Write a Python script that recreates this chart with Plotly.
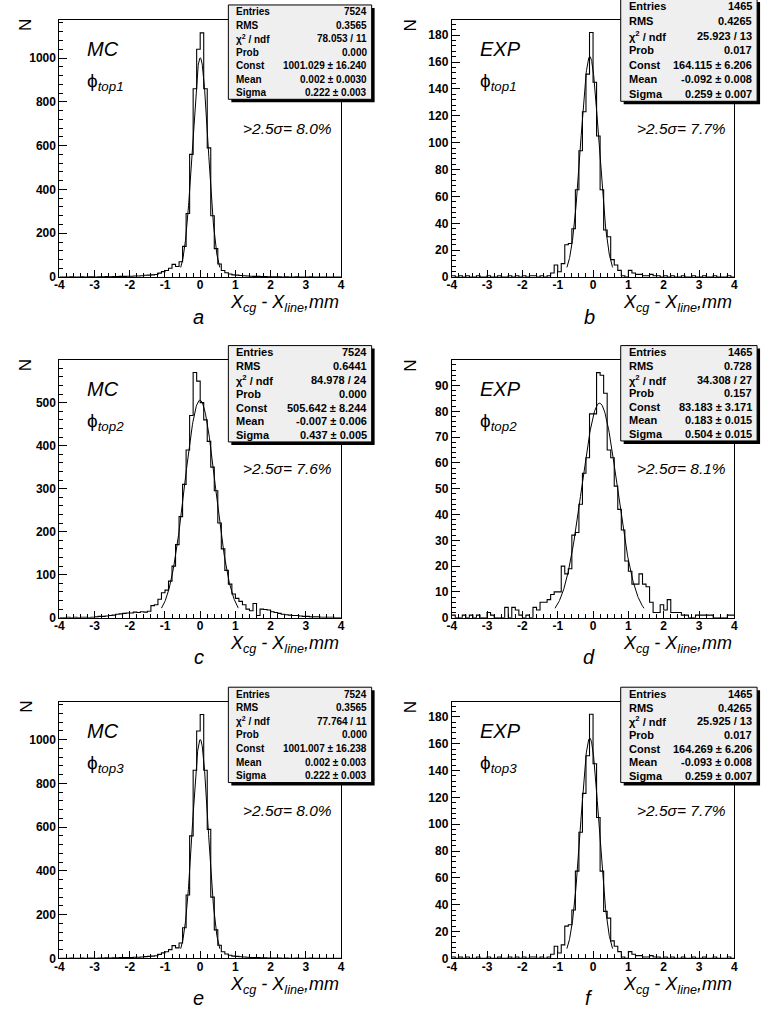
import numpy as np
import plotly.graph_objects as go

W, H = 770, 1012

# 80 bins of 0.1 mm from -4 to 4
bin_edges = np.round(np.linspace(-4.0, 4.0, 81), 2)

# Counts per bin (left edge -4.0 ... 3.9)
mc_top1 = [0, 0, 0, 1, 0, 0, 1, 0, 1, 1, 0, 1, 1, 2, 1, 2, 2, 3, 3, 4,
           4, 5, 5, 6, 8, 9, 10, 12, 18, 25,
           30, 40, 58, 48, 70, 140, 290, 560, 860, 1040,
           1115, 860, 590, 280, 130, 60, 30, 20, 14, 10,
           9, 7, 6, 5, 4, 3, 3, 2, 2, 1,
           1, 1, 1, 0, 1, 0, 0, 1, 0, 0,
           0, 1, 0, 0, 0, 0, 0, 0, 0, 0]

exp_top1 = [1, 0, 1, 0, 1, 0, 0, 1, 0, 0, 1, 0, 0, 1, 0, 0, 1, 0, 1, 0,
            1, 0, 1, 1, 0, 1, 0, 1, 3, 9,
            4, 10, 24, 25, 36, 65, 94, 123, 151, 182,
            145, 105, 65, 35, 30, 13, 9, 5, 1, 0,
            5, 3, 2, 2, 1, 1, 2, 1, 1, 0,
            1, 0, 1, 0, 0, 1, 0, 0, 1, 0,
            0, 1, 0, 0, 1, 0, 0, 0, 1, 0]

mc_top2 = [0, 0, 1, 0, 1, 0, 1, 1, 0, 1,
           2, 3, 3, 4, 5, 6, 8, 9, 10, 11,
           11, 13, 12, 14, 13, 15, 28, 30, 43, 58,
           64, 85, 120, 170, 235, 310, 390, 470, 570, 550,
           500, 460, 410, 350, 295, 220, 160, 110, 78, 55,
           45, 38, 30, 20, 16, 33, 5, 20, 19, 18,
           14, 12, 10, 8, 7, 6, 5, 5, 4, 3,
           3, 2, 2, 2, 1, 1, 1, 1, 0, 0]

exp_top2 = [1, 0, 0, 1, 0, 1, 0, 1, 0, 0,
            2, 1, 0, 0, 0, 4, 0, 4, 3, 1,
            0, 1, 0, 4, 3, 6, 6, 7, 9, 10,
            10, 20, 17, 19, 32, 33, 44, 56, 62, 79,
            79, 95, 94, 87, 65, 62, 51, 42, 34, 22,
            18, 13, 13, 17, 13, 12, 6, 2, 2, 5,
            3, 7, 2, 2, 2, 1, 1, 0, 0, 1,
            1, 1, 1, 1, 0, 0, 0, 0, 1, 1]

mc_top3 = [0, 0, 0, 1, 0, 0, 1, 0, 1, 1, 0, 1, 1, 2, 1, 2, 2, 3, 3, 4,
           4, 5, 5, 6, 8, 9, 10, 12, 18, 25,
           30, 40, 58, 48, 70, 140, 290, 560, 860, 1040,
           1115, 860, 590, 280, 130, 60, 30, 20, 14, 10,
           9, 7, 6, 5, 4, 3, 3, 2, 2, 1,
           1, 1, 1, 0, 1, 0, 0, 1, 0, 0,
           0, 1, 0, 0, 0, 0, 0, 0, 0, 0]

exp_top3 = [1, 0, 1, 0, 1, 0, 0, 1, 0, 0, 1, 0, 0, 1, 0, 0, 1, 0, 1, 0,
            1, 0, 1, 1, 0, 1, 0, 1, 3, 9,
            4, 10, 24, 25, 36, 65, 94, 123, 151, 182,
            145, 105, 65, 35, 30, 13, 9, 5, 1, 0,
            5, 3, 2, 2, 1, 1, 2, 1, 1, 0,
            1, 0, 1, 0, 0, 1, 0, 0, 1, 0,
            0, 1, 0, 0, 1, 0, 0, 0, 1, 0]

# Gaussian fit parameters (Const, Mean, Sigma)
fit_const = [1001.029, 164.115, 505.642, 83.183, 1001.007, 164.269]
fit_mean = [0.002, -0.092, -0.007, 0.183, 0.002, -0.093]
fit_sigma = [0.222, 0.259, 0.437, 0.504, 0.222, 0.259]

stat_names = ["Entries", "RMS", "χ<sup>2</sup> / ndf", "Prob", "Const", "Mean", "Sigma"]
stat_values = [
    ["7524", "0.3565", "78.053 / 11", "0.000", "1001.029 ± 16.240", "0.002 ± 0.0030", "0.222 ± 0.003"],
    ["1465", "0.4265", "25.923 / 13", "0.017", "164.115 ± 6.206", "-0.092 ± 0.008", "0.259 ± 0.007"],
    ["7524", "0.6441", "84.978 / 24", "0.000", "505.642 ± 8.244", "-0.007 ± 0.006", "0.437 ± 0.005"],
    ["1465", "0.728", "34.308 / 27", "0.157", "83.183 ± 3.171", "0.183 ± 0.015", "0.504 ± 0.015"],
    ["7524", "0.3565", "77.764 / 11", "0.000", "1001.007 ± 16.238", "0.002 ± 0.003", "0.222 ± 0.003"],
    ["1465", "0.4265", "25.925 / 13", "0.017", "164.269 ± 6.206", "-0.093 ± 0.008", "0.259 ± 0.007"],
]

sample_names = ["MC", "EXP", "MC", "EXP", "MC", "EXP"]
phi_names = ["top1", "top1", "top2", "top2", "top3", "top3"]
tail_fractions = ["8.0%", "7.7%", "7.6%", "8.1%", "8.0%", "7.7%"]
panel_letters = ["a", "b", "c", "d", "e", "f"]
histograms = [mc_top1, exp_top1, mc_top2, exp_top2, mc_top3, exp_top3]

# y-axis range top and tick spacing for each pad
y_max = [1172, 191, 598, 99.7, 1172, 191]
y_dtick = [200, 20, 100, 10, 200, 20]
y_minor = [40, 4, 20, 2, 40, 4]
x_ticks = [-4, -3, -2, -1, 0, 1, 2, 3, 4]

# ---- pad geometry in pixels ----
col_x = [(55, 340), (452, 738)]
row_y = [(20.5, 279), (363, 622), (707, 965)]
stat_box = [(226, 371, 5, 100), (623, 761, -1, 102),
            (226, 371, 348, 445), (623, 761, 348, 444),
            (226, 371, 692, 788), (623, 761, 692, 788)]
stat_font = [10, 11, 11, 11, 10, 11]
label_col = [(82, 333, 21), (480, 732, 410)]


def fx(p):
    return p / W


def fy(p):
    return 1 - p / H


def bold_ticks(vals):
    return [f"<b>{v:g}</b>" for v in vals]


FONT = "Liberation Sans, Arial, Helvetica, sans-serif"

fig = go.Figure()
shapes = []
annotations = []

for k in range(6):
    r, c = divmod(k, 2)
    ax = "" if k == 0 else str(k + 1)
    x0, x1 = col_x[c]
    yt, yb = row_y[r]

    counts = histograms[k]
    fig.add_trace(go.Scatter(
        x=list(bin_edges), y=list(counts) + [counts[-1]],
        mode="lines", line=dict(color="black", width=1.1, shape="hv"),
        xaxis="x" + ax, yaxis="y" + ax, showlegend=False, hoverinfo="skip"))

    # fitted Gaussian, drawn over mean ± 2.5 sigma
    m, s, a0 = fit_mean[k], fit_sigma[k], fit_const[k]
    xf = np.linspace(m - 2.5 * s, m + 2.5 * s, 200)
    yf = a0 * np.exp(-0.5 * ((xf - m) / s) ** 2)
    fig.add_trace(go.Scatter(
        x=xf, y=yf, mode="lines", line=dict(color="black", width=1),
        xaxis="x" + ax, yaxis="y" + ax, showlegend=False, hoverinfo="skip"))

    y_ticks = list(np.arange(0, y_max[k], y_dtick[k]))
    axis_common = dict(
        showline=True, mirror=True, linecolor="black", linewidth=1,
        showgrid=False, zeroline=False, ticks="inside", tickcolor="black",
        tickwidth=1, tickfont=dict(family=FONT, size=12, color="black"),
        tickmode="array",
    )
    fig.layout["xaxis" + ax] = dict(
        axis_common, domain=[fx(x0), fx(x1)], range=[-4, 4], anchor="y" + ax,
        tickvals=x_ticks, ticktext=bold_ticks(x_ticks), ticklen=7,
        ticklabelstandoff=-3,
        minor=dict(ticks="inside", ticklen=4, tickmode="linear", tick0=0, dtick=0.2,
                   tickcolor="black"))
    fig.layout["yaxis" + ax] = dict(
        axis_common, domain=[fy(yb), fy(yt)], range=[0, y_max[k]], anchor="x" + ax,
        tickvals=y_ticks, ticktext=bold_ticks(y_ticks), ticklen=8,
        minor=dict(ticks="inside", ticklen=4, tickmode="linear", tick0=0, dtick=y_minor[k],
                   tickcolor="black"))

    # statistics box with drop shadow
    bx0, bx1, by0, by1 = stat_box[k]
    shapes.append(dict(type="rect", xref="paper", yref="paper",
                       x0=fx(bx0 + 3), x1=fx(bx1 + 3), y0=fy(by1 + 3), y1=fy(by0 + 3),
                       fillcolor="black", line=dict(width=0), layer="above"))
    shapes.append(dict(type="rect", xref="paper", yref="paper",
                       x0=fx(bx0), x1=fx(bx1), y0=fy(by1), y1=fy(by0),
                       fillcolor="#efefef", line=dict(color="black", width=1), layer="above"))
    row_h = (by1 - by0) / 7.0
    for i in range(7):
        yc = by0 + row_h * (i + 0.5)
        annotations.append(dict(
            xref="paper", yref="paper", x=fx(bx0 + 6), y=fy(yc), xanchor="left", yanchor="middle",
            text="<b>" + stat_names[i] + "</b>", showarrow=False,
            font=dict(family=FONT, size=stat_font[k], color="black")))
        annotations.append(dict(
            xref="paper", yref="paper", x=fx(bx1 - 3), y=fy(yc), xanchor="right", yanchor="middle",
            text="<b>" + stat_values[k][i] + "</b>", showarrow=False,
            font=dict(family=FONT, size=stat_font[k], color="black")))

    lx, rx, nx = label_col[c]
    annotations.append(dict(
        xref="paper", yref="paper", x=fx(lx - 1), y=fy(yt + 29), xanchor="left", yanchor="middle",
        text="<i>" + sample_names[k] + "</i>", showarrow=False,
        font=dict(family=FONT, size=20, color="black")))
    annotations.append(dict(
        xref="paper", yref="paper", x=fx(lx - 1), y=fy(yt + 62), xanchor="left", yanchor="middle",
        text="ϕ<sub><i>" + phi_names[k] + "</i></sub>", showarrow=False,
        font=dict(family=FONT, size=19, color="black")))
    annotations.append(dict(
        xref="paper", yref="paper", x=fx(rx), y=fy(yt + 109), xanchor="right", yanchor="middle",
        text="<i>>2.5σ= " + tail_fractions[k] + "</i>", showarrow=False,
        font=dict(family=FONT, size=15.5, color="black")))
    annotations.append(dict(
        xref="paper", yref="paper", x=fx(nx), y=fy(yt + 5), xanchor="center", yanchor="middle",
        text="N", textangle=-90, showarrow=False,
        font=dict(family=FONT, size=17, color="black")))
    annotations.append(dict(
        xref="paper", yref="paper", x=fx(x1), y=fy(yb + 27), xanchor="right", yanchor="middle",
        text="<i>X<sub>cg</sub> - X<sub>line</sub>,mm</i>", showarrow=False,
        font=dict(family=FONT, size=18, color="black")))
    annotations.append(dict(
        xref="paper", yref="paper", x=fx(196 if c == 0 else 591), y=fy(yb + 40), xanchor="center",
        yanchor="middle", text="<i>" + panel_letters[k] + "</i>", showarrow=False,
        font=dict(family=FONT, size=20, color="black")))

fig.update_layout(
    width=W, height=H, margin=dict(l=0, r=0, t=0, b=0),
    paper_bgcolor="white", plot_bgcolor="white",
    shapes=shapes, annotations=annotations, showlegend=False,
)

fig.write_html("out.html")
